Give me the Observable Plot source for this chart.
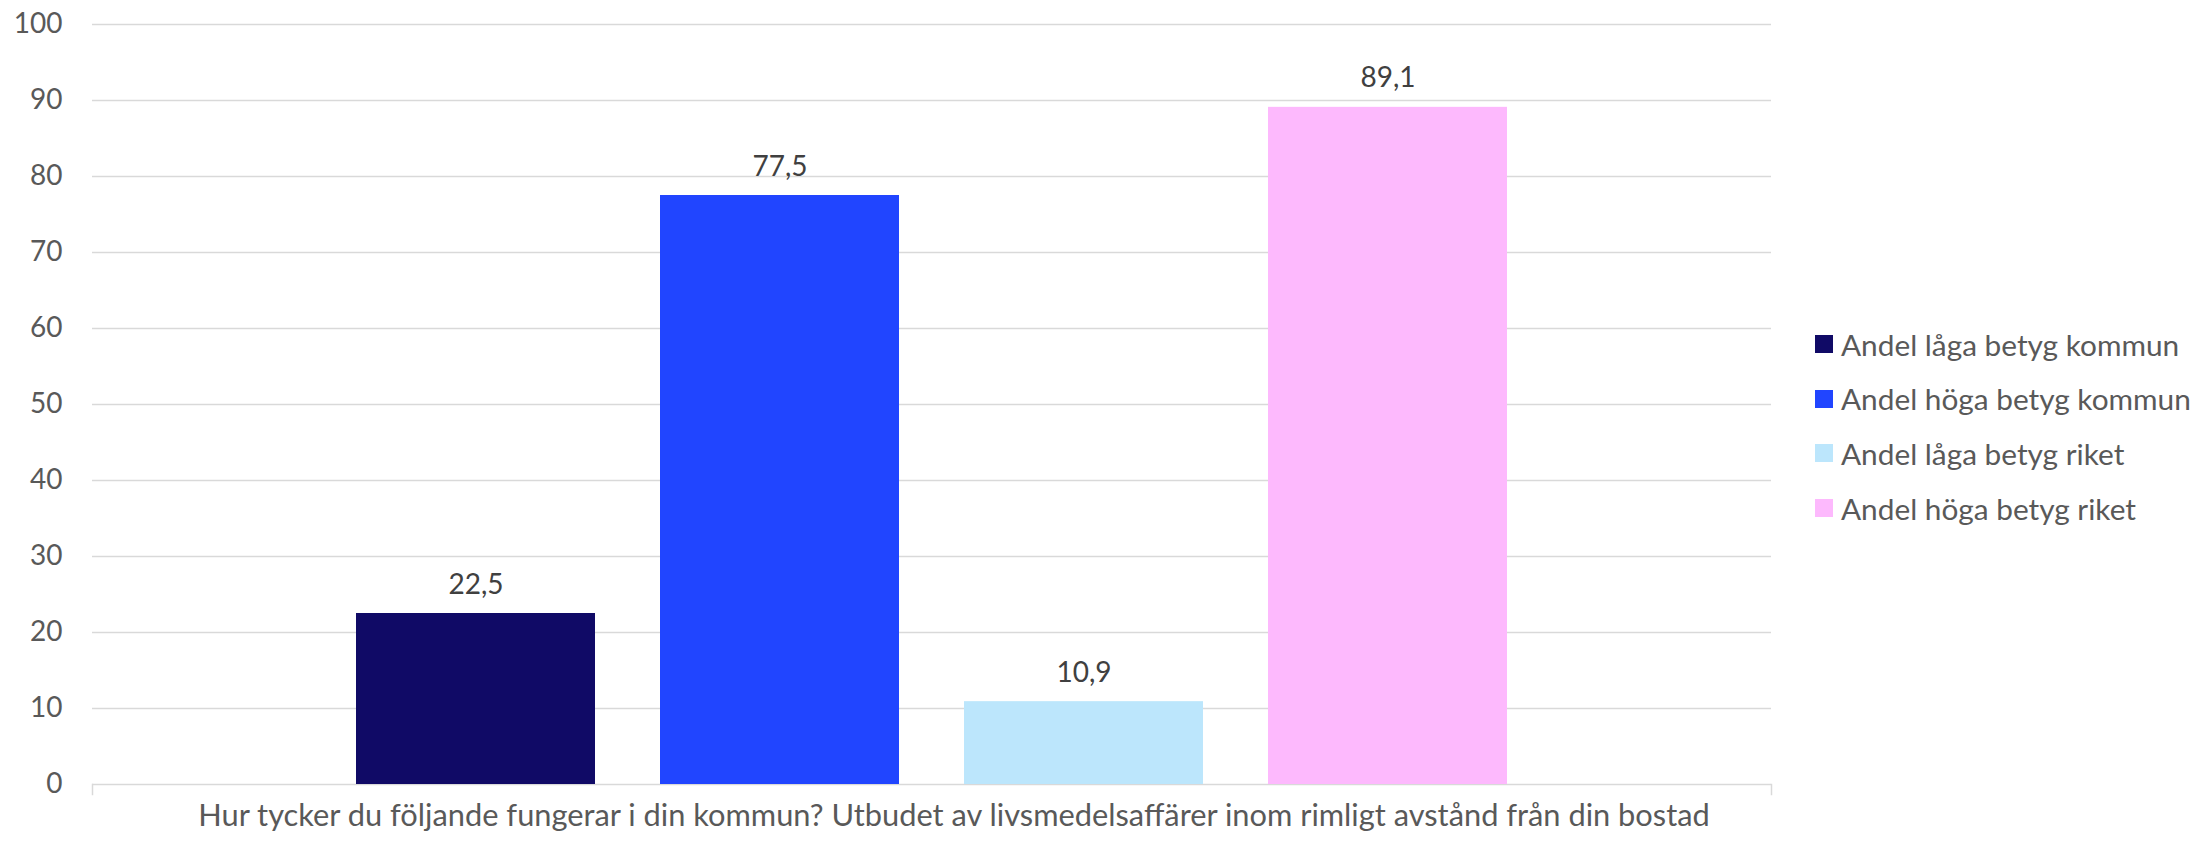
<!DOCTYPE html>
<html>
<head>
<meta charset="utf-8">
<script src="https://cdn.jsdelivr.net/npm/d3@7"></script>
<script src="https://cdn.jsdelivr.net/npm/@observablehq/plot@0.6"></script>
<style>
  html, body { margin: 0; padding: 0; background: #ffffff; }
  #wrap { position: relative; width: 2195px; height: 842px; font-family: Lato, sans-serif; }
  #legend { position: absolute; left: 1815px; top: 317px; }
  .lrow { display: flex; align-items: center; height: 54.6px; font-size: 29.8px; color: #595959; white-space: nowrap; }
  .lsw { width: 18px; height: 18px; margin-right: 8px; flex: none; }
</style>
</head>
<body>
<div id="wrap"><div id="legend"></div></div>
<script>
const categories = ["Hur tycker du följande fungerar i din kommun? Utbudet av livsmedelsaffärer inom rimligt avstånd från din bostad"];
const series = ["Andel låga betyg kommun", "Andel höga betyg kommun", "Andel låga betyg riket", "Andel höga betyg riket"];
const values = [22.5, 77.5, 10.9, 89.1];
const colors = ["#100a66", "#2145ff", "#bce6fc", "#fdb9fd"];
const yTicks = [0, 10, 20, 30, 40, 50, 60, 70, 80, 90, 100];

const data = series.map((s, i) => ({category: categories[0], series: s, value: values[i]}));
const fmt = v => v.toLocaleString("sv-SE", {minimumFractionDigits: 1, maximumFractionDigits: 1});

const chart = Plot.plot({
  width: 2195,
  height: 842,
  marginLeft: 92,
  marginRight: 424,
  marginTop: 24,
  marginBottom: 58,
  style: {fontFamily: "Lato, sans-serif", fontSize: "28px", color: "#595959", background: "transparent", overflow: "visible"},
  fx: {domain: categories, padding: 0, label: null},
  x: {domain: series, paddingInner: 0.214, paddingOuter: 0.868, axis: null},
  y: {domain: [0, 100], label: null},
  color: {domain: series, range: colors},
  marks: [
    Plot.gridY(yTicks, {stroke: "#d9d9d9", strokeOpacity: 1, strokeWidth: 1.5}),
    Plot.frame({anchor: "left", stroke: "#d9d9d9", strokeOpacity: 1, strokeWidth: 1.5, insetTop: 760, insetBottom: -10}),
    Plot.frame({anchor: "right", stroke: "#d9d9d9", strokeOpacity: 1, strokeWidth: 1.5, insetTop: 760, insetBottom: -10}),
    Plot.axisY({ticks: yTicks, tickSize: 0, tickPadding: 30, label: null, fill: "#595959"}),
    Plot.axisFx({anchor: "bottom", tickSize: 0, tickPadding: 20, label: null, fill: "#595959", fontSize: 30.8, dx: 22}),
    Plot.barY(data, {fx: "category", x: "series", y: "value", fill: "series"}),
    Plot.text(data, {fx: "category", x: "series", y: "value", text: d => fmt(d.value), lineAnchor: "bottom", dy: -20, fill: "#404040"})
  ]
});
document.getElementById("wrap").prepend(chart);

const legend = document.getElementById("legend");
series.forEach((s, i) => {
  const row = document.createElement("div");
  row.className = "lrow";
  const sw = document.createElement("span");
  sw.className = "lsw";
  sw.style.background = colors[i];
  const tx = document.createElement("span");
  tx.textContent = s;
  row.append(sw, tx);
  legend.append(row);
});
</script>
</body>
</html>
